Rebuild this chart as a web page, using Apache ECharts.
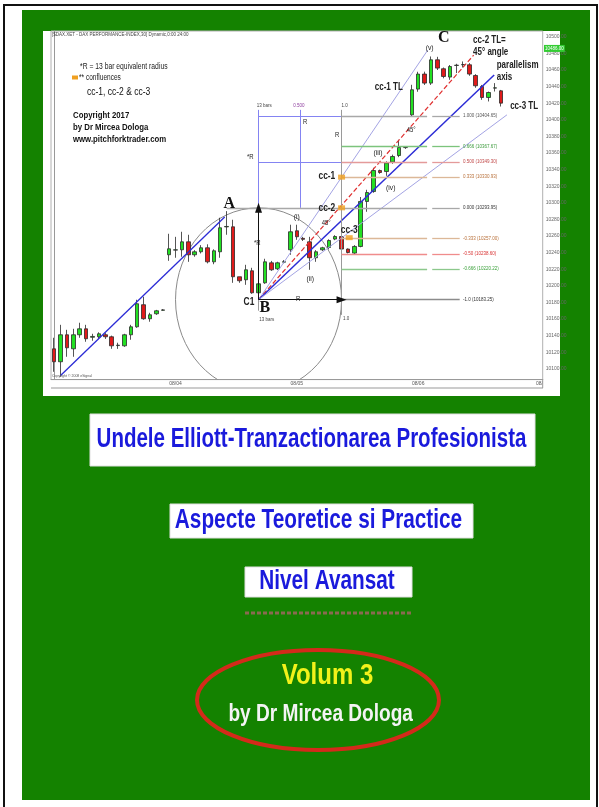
<!DOCTYPE html>
<html>
<head>
<meta charset="utf-8">
<title>Undele Elliott - Volum 3</title>
<script src="https://cdn.jsdelivr.net/npm/echarts@6/dist/echarts.min.js"></script>
<style>
  html, body { margin: 0; padding: 0; background: #fff; }
  #cover { width: 599px; height: 807px; }
</style>
</head>
<body>
<div id="cover"></div>
<script>
// DAX bars, bar index 0..70
const opens = [10124.1, 10108.5, 10141.0, 10124.1, 10141.0, 10148.2, 10138.0, 10138.6, 10141.0, 10138.6,
  10128.0, 10127.7, 10141.0, 10150.6, 10177.2, 10160.3, 10166.3, 10170.5, 10237.4, 10243.0,
  10243.4, 10253.0, 10237.4, 10241.0, 10245.8, 10228.9, 10241.0, 10271.0, 10271.1, 10210.9,
  10207.3, 10218.1, 10191.6, 10203.6, 10227.7, 10220.5, 10228.5, 10243.4, 10266.3, 10257.2,
  10253.0, 10233.8, 10243.4, 10246.2, 10256.3, 10259.4, 10244.3, 10239.4, 10247.4, 10301.6,
  10313.6, 10338.9, 10337.7, 10349.1, 10357.0, 10366.5, 10406.0, 10437.0, 10455.1, 10444.2,
  10472.3, 10461.5, 10451.5, 10465.5, 10466.3, 10466.3, 10453.4, 10440.1, 10426.9, 10438.2, 10434.9];
const closes = [10108.5, 10141.0, 10125.3, 10141.0, 10148.2, 10136.2, 10139.0, 10142.2, 10138.6, 10127.7,
  10128.5, 10141.0, 10150.6, 10178.4, 10160.3, 10165.1, 10169.9, 10171.0, 10244.6, 10243.4,
  10253.0, 10237.4, 10241.0, 10245.8, 10228.9, 10242.2, 10269.9, 10271.5, 10210.9, 10206.1,
  10219.3, 10191.6, 10202.4, 10228.9, 10219.3, 10227.7, 10229.0, 10265.1, 10259.1, 10256.0,
  10233.8, 10241.0, 10245.8, 10254.6, 10259.4, 10244.3, 10240.1, 10247.4, 10301.6, 10312.4,
  10338.9, 10336.5, 10347.9, 10355.8, 10366.7, 10366.7, 10436.2, 10455.1, 10444.2, 10472.3,
  10462.3, 10452.2, 10464.2, 10465.8, 10466.6, 10455.1, 10441.0, 10426.9, 10432.9, 10438.5, 10420.1];
const lows = [10096.4, 10090.4, 10114.5, 10114.5, 10137.4, 10132.6, 10133.8, 10136.0, 10136.0, 10124.1,
  10124.0, 10126.5, 10135.0, 10149.4, 10159.1, 10156.7, 10165.0, 10170.0, 10230.1, 10233.8,
  10235.0, 10228.9, 10235.0, 10239.0, 10227.0, 10226.0, 10233.8, 10261.5, 10203.6, 10203.6,
  10201.2, 10190.4, 10183.25, 10202.4, 10218.0, 10219.0, 10227.0, 10237.4, 10255.4, 10254.0,
  10219.3, 10228.9, 10242.0, 10244.0, 10255.0, 10240.1, 10239.0, 10238.0, 10246.4, 10289.2,
  10312.1, 10335.0, 10332.5, 10347.0, 10355.0, 10365.0, 10404.0, 10433.8, 10442.0, 10442.0,
  10460.0, 10450.0, 10448.2, 10456.3, 10463.0, 10453.0, 10438.6, 10424.1, 10422.1, 10434.1, 10416.0];
const highs = [10137.4, 10153.0, 10147.0, 10148.2, 10155.5, 10153.0, 10142.2, 10144.0, 10143.0, 10140.0,
  10131.4, 10142.2, 10153.0, 10183.2, 10186.8, 10167.5, 10171.0, 10172.0, 10262.7, 10259.0,
  10265.1, 10261.5, 10243.0, 10249.0, 10250.0, 10244.0, 10282.0, 10290.0, 10279.6, 10210.9,
  10225.3, 10221.7, 10204.8, 10232.6, 10230.0, 10229.0, 10231.0, 10273.6, 10273.6, 10259.0,
  10259.0, 10243.0, 10247.0, 10256.0, 10261.0, 10263.5, 10245.0, 10249.0, 10307.0, 10315.7,
  10342.2, 10340.0, 10350.0, 10358.0, 10375.9, 10368.0, 10442.2, 10457.9, 10458.0, 10476.3,
  10475.9, 10463.0, 10466.0, 10467.5, 10470.3, 10468.3, 10455.0, 10442.0, 10434.0, 10444.2, 10436.0];

const dayTicks = [19, 38, 57, 76];
const dayNames = ['08/04', '08/05', '08/06', '08/'];
const lastPrice = 10486;

// fibonacci projection levels
const fibRatios = ['1.000', '0.666', '0.500', '0.333', '0.000', '-0.333', '-0.50', '-0.666', '-1.0'];
const fibPrices = [10404.65, 10367.67, 10349.30, 10330.93, 10293.95, 10257.00, 10238.60, 10220.22, 10183.25];
const fibStart = [45, 45, 45, 45, 27, 45, 45, 45, 45];
const fibGap = [58.4, 59.2];
const fibEnd = 63.5;

const pointB = [32, 10183.25];
const timeOne = 45; // B + 13 bars

// trend lines [from, to]
const trendAB = [[1, 10092], [26.7, 10283]];
const cc1Line = [pointB, [58.5, 10484]];
const cc2Line = [pointB, [65.7, 10478]];
const axisLine = [pointB, [68.9, 10454]];
const cc3Line = [pointB, [70.9, 10406]];

const confluences = [[45, 10330.93], [45, 10293.95], [46.2, 10258]];

// annotations [bar, price, text]
const bigLetters = [[27.4, 10298.8, 'A'], [33.0, 10173.5, 'B'], [61.0, 10498.8, 'C']];
const waveNotes = [[38.0, 10283.2, '(i)'], [40.1, 10208.5, '(ii)'], [50.7, 10360.3, '(iii)'],
  [52.7, 10318.1, '(iv)'], [58.8, 10486.8, '(v)']];
const ccNotes = [[42.7, 10332.6, 'cc-1'], [42.7, 10294.0, 'cc-2'], [46.2, 10267.5, 'cc-3'], [30.5, 10180.8, 'C1']];
const tlNotes = [[50.2, 10439.8, 'cc-1 TL'], [65.6, 10496.4, 'cc-2 TL='], [65.6, 10482.0, '45° angle'],
  [69.3, 10466.3, 'parallelism'], [69.3, 10451.8, 'axis'], [71.4, 10416.9, 'cc-3 TL']];
const smallNotes = [[55.9, 10388.0, '45°'], [42.6, 10275.9, '45°'], [31.8, 10251.8, '*R'], [38.2, 10184.4, 'R'],
  [39.3, 10397.6, 'R'], [44.3, 10382.0, 'R'], [30.7, 10355.4, '*R']];
const tinyNotes = [[32.9, 10416.9, '13 bars'], [38.3, 10416.9, '0.500'], [45.5, 10416.9, '1.0'],
  [33.3, 10159.1, '13 bars'], [45.7, 10160.3, '1.0']];

const FONT = '"Liberation Sans", Arial, sans-serif';

function seg(a, b, color, width, type, arrow) {
  return [
    { coord: a, symbol: 'none', lineStyle: { color: color, width: width, type: type || 'solid' } },
    { coord: b, symbol: arrow ? 'triangle' : 'none', symbolSize: arrow ? [7, 10] : 0 }
  ];
}

const lines = [];
const lav = '#a4a4e4';
lines.push(seg(trendAB[0], trendAB[1], '#2c2cd6', 1.3));
lines.push(seg(cc1Line[0], cc1Line[1], lav, 1));
lines.push(seg(cc2Line[0], cc2Line[1], '#e03030', 1.2, 'dashed'));
lines.push(seg(axisLine[0], axisLine[1], '#2c2cd6', 1.5));
lines.push(seg(cc3Line[0], cc3Line[1], lav, 1));
// R box
const boxBlue = '#8484f2';
lines.push(seg([32, fibPrices[4]], [32, 10412], boxBlue, 1));
lines.push(seg([38.5, fibPrices[4]], [38.5, 10412], boxBlue, 1));
lines.push(seg([32, fibPrices[0]], [timeOne, fibPrices[0]], boxBlue, 1));
lines.push(seg([32, fibPrices[2]], [timeOne, fibPrices[2]], boxBlue, 1));
lines.push(seg([timeOne, 10412], [timeOne, 10165], '#9a9a9a', 1));
lines.push(seg([32, pointB[1]], [32, 10170], '#9a9a9a', 1));
// fib levels
const fibLine = ['#a8a8a8', '#7cc47c', '#e49a9a', '#dcb898', '#a8a8a8', '#dcb898', '#f08c8c', '#8cc88c', '#8c8c8c'];
const fibText = ['#555', '#3a9a3a', '#c04848', '#b8703a', '#333', '#b8703a', '#d83030', '#3aa03a', '#333'];
fibPrices.forEach(function (p, i) {
  if (i === 8) {
    lines.push(seg([fibStart[i], p], [fibEnd, p], fibLine[i], 1.3));
  } else {
    lines.push(seg([fibStart[i], p], [fibGap[0], p], fibLine[i], 1.3));
    lines.push(seg([fibGap[1], p], [fibEnd, p], fibLine[i], 1.3));
  }
});
// R arrows from B
lines.push(seg(pointB, [32, fibPrices[4]], '#111', 1, 'solid', true));
lines.push(seg(pointB, [timeOne, pointB[1]], '#111', 1, 'solid', true));

function notes(list, font, color, sx, align, z, bg) {
  return {
    type: 'custom', silent: true, z: z || 6, clip: false,
    data: list.map(function (n) { return [n[0], n[1]]; }),
    encode: { x: 0, y: 1 },
    renderItem: function (params, api) {
      const n = list[params.dataIndex];
      const p = api.coord([n[0], n[1]]);
      const fill = Array.isArray(color) ? color[params.dataIndex] : color;
      const style = { text: n[2], font: font, fill: fill, textAlign: align, textVerticalAlign: 'middle', align: align, verticalAlign: 'middle' };
      if (bg) { style.backgroundColor = bg; style.padding = [1, 1]; }
      return { type: 'text', x: p[0], y: p[1], scaleX: sx, style: style };
    }
  };
}

function txt(x, y, text, size, color, weight, sx, align, family) {
  return {
    type: 'text', x: x, y: y, scaleX: sx, z: 20,
    style: {
      text: text, fill: color, font: weight + ' ' + size + 'px ' + (family || FONT),
      textAlign: align, textVerticalAlign: 'middle', align: align, verticalAlign: 'middle'
    }
  };
}

const fibLabels = fibPrices.map(function (p, i) { return [fibEnd + 0.5, p, fibRatios[i] + ' (' + p.toFixed(2) + ')']; });

const graphics = [
  { type: 'rect', z: -20, shape: { x: 4, y: 5, width: 593, height: 810 }, style: { fill: '#fff', stroke: '#111', lineWidth: 2 } },
  { type: 'rect', z: -19, shape: { x: 22, y: 10, width: 568, height: 790 }, style: { fill: '#148200' } },
  { type: 'rect', z: -18, shape: { x: 43, y: 31, width: 517, height: 365 }, style: { fill: '#fff' } },
  { type: 'line', z: 1, shape: { x1: 51, y1: 388, x2: 543, y2: 388 }, style: { stroke: '#999', lineWidth: 1 } },
  { type: 'line', z: 1, shape: { x1: 542.7, y1: 379, x2: 542.7, y2: 388 }, style: { stroke: '#999', lineWidth: 1 } },
  // chart legend
  txt(52, 35, '[$DAX.XET - DAX PERFORMANCE-INDEX,30] Dynamic,0:00 24:00', 4.5, '#444', 'normal', 1, 'left'),
  txt(80, 67, '*R = 13 bar equivalent radius', 8.8, '#222', 'normal', 0.77, 'left'),
  { type: 'rect', z: 20, shape: { x: 72, y: 75.5, width: 6, height: 4 }, style: { fill: '#f0a020' } },
  txt(79, 78, '** confluences', 8.5, '#222', 'normal', 0.77, 'left'),
  txt(87, 92, 'cc-1, cc-2 & cc-3', 10, '#111', 'normal', 0.85, 'left'),
  txt(73, 115, 'Copyright 2017', 9.5, '#111', 'bold', 0.82, 'left'),
  txt(73, 127, 'by Dr Mircea Dologa', 9.5, '#111', 'bold', 0.82, 'left'),
  txt(73, 139, 'www.pitchforktrader.com', 9.5, '#111', 'bold', 0.82, 'left'),
  txt(52, 376, 'Copyright © 2008 eSignal', 3.5, '#555', 'normal', 1, 'left'),
  // cover titles
  { type: 'rect', z: -10, shape: { x: 90, y: 414, width: 445, height: 52 }, style: { fill: '#fff', stroke: '#e0e0e0', lineWidth: 1 } },
  txt(311.5, 440, 'Undele Elliott-Tranzactionarea Profesionista', 27, '#1a1adc', 'bold', 0.76, 'center'),
  { type: 'rect', z: -10, shape: { x: 170, y: 504, width: 303, height: 34 }, style: { fill: '#fff', stroke: '#e0e0e0', lineWidth: 1 } },
  txt(318.5, 521, 'Aspecte Teoretice si Practice', 27, '#1a1adc', 'bold', 0.77, 'center'),
  { type: 'rect', z: -10, shape: { x: 245, y: 567, width: 167, height: 30 }, style: { fill: '#fff', stroke: '#e0e0e0', lineWidth: 1 } },
  txt(327, 582, 'Nivel Avansat', 27, '#1a1adc', 'bold', 0.77, 'center'),
  { type: 'line', z: -10, shape: { x1: 245, y1: 613, x2: 413, y2: 613 }, style: { stroke: '#8a6a50', lineWidth: 3, lineDash: [4, 2] } },
  { type: 'ellipse', z: -10, shape: { cx: 318, cy: 700, rx: 121, ry: 50 }, style: { fill: 'none', stroke: '#d42a1a', lineWidth: 4 } },
  txt(327.5, 676, 'Volum 3', 30, '#f2f21a', 'bold', 0.8, 'center'),
  txt(320.7, 715, 'by Dr Mircea Dologa', 23, '#f4f4f4', 'bold', 0.83, 'center')
];

const chart = echarts.init(document.getElementById('cover'));
chart.setOption({
  animation: false,
  backgroundColor: '#fff',
  graphic: { elements: graphics },
  grid: { left: 51, right: 56.3, top: 31, bottom: 427.4, outerBoundsMode: 'none', show: true, borderColor: '#b0b0b0', borderWidth: 1 },
  xAxis: {
    type: 'value', min: -0.5, max: 76.5,
    splitLine: { show: false },
    axisLine: { show: true, lineStyle: { color: '#999' } },
    axisTick: { show: false },
    axisLabel: {
      customValues: dayTicks, fontSize: 5, color: '#555', margin: 2,
      formatter: function (v) { const k = dayTicks.indexOf(v); return k < 0 ? '' : dayNames[k]; }
    }
  },
  yAxis: {
    type: 'value', position: 'right', min: 10087, max: 10507,
    minInterval: 20, maxInterval: 20, splitNumber: 21,
    splitLine: { show: false },
    axisLine: { show: true, lineStyle: { color: '#999' } },
    axisTick: { show: false },
    axisLabel: {
      fontSize: 5, color: '#666', margin: 3,
      formatter: function (v) { return Math.abs(v % 20) < 1e-6 ? v.toFixed(2) : ''; }
    }
  },
  series: [
    {
      type: 'custom', silent: true, clip: true, z: 3,
      data: [pointB],
      renderItem: function (params, api) {
        const c = api.coord(pointB);
        const e = api.coord([timeOne, fibPrices[4]]);
        return { type: 'ellipse', shape: { cx: c[0], cy: c[1], rx: e[0] - c[0], ry: c[1] - e[1] }, style: { fill: 'none', stroke: '#8a8a8a', lineWidth: 1 } };
      }
    },
    {
      type: 'candlestick', name: 'DAX', clip: false, z: 4, barWidth: 4,
      encode: { x: 0, y: [1, 2, 3, 4] },
      data: opens.map(function (o, i) { return [i, o, closes[i], lows[i], highs[i]]; }),
      itemStyle: { color: '#22e022', color0: '#e01a1a', borderColor: '#2a2a2a', borderColor0: '#2a2a2a', borderColorDoji: '#2a2a2a', borderWidth: 0.8 },
      markLine: {
        silent: true, animation: false, symbol: ['none', 'none'], label: { show: false },
        data: lines
      }
    },
    {
      type: 'scatter', silent: true, z: 5, symbol: 'rect', symbolSize: [7, 5],
      itemStyle: { color: '#f0a020' },
      data: confluences
    },
    notes(bigLetters, 'bold 16px "Liberation Serif", "Times New Roman", serif', '#111', 1, 'center', 7),
    notes(waveNotes, 'normal 8px ' + FONT, '#222', 0.85, 'center'),
    notes(ccNotes, 'bold 10.5px ' + FONT, '#222', 0.8, 'center'),
    notes(tlNotes, 'bold 10px ' + FONT, '#222', 0.8, 'left'),
    notes(smallNotes, 'normal 7px ' + FONT, '#222', 0.85, 'center'),
    notes(tinyNotes, 'normal 4.5px ' + FONT, ['#444', '#9040a0', '#444', '#444', '#444'], 1, 'center'),
    notes(fibLabels, 'normal 4.5px ' + FONT, fibText, 1, 'left'),
    notes([[76.7, lastPrice, lastPrice.toFixed(2)]], 'normal 4.5px ' + FONT, '#fff', 1, 'left', 8, '#33cc33')
  ]
});
</script>
</body>
</html>
